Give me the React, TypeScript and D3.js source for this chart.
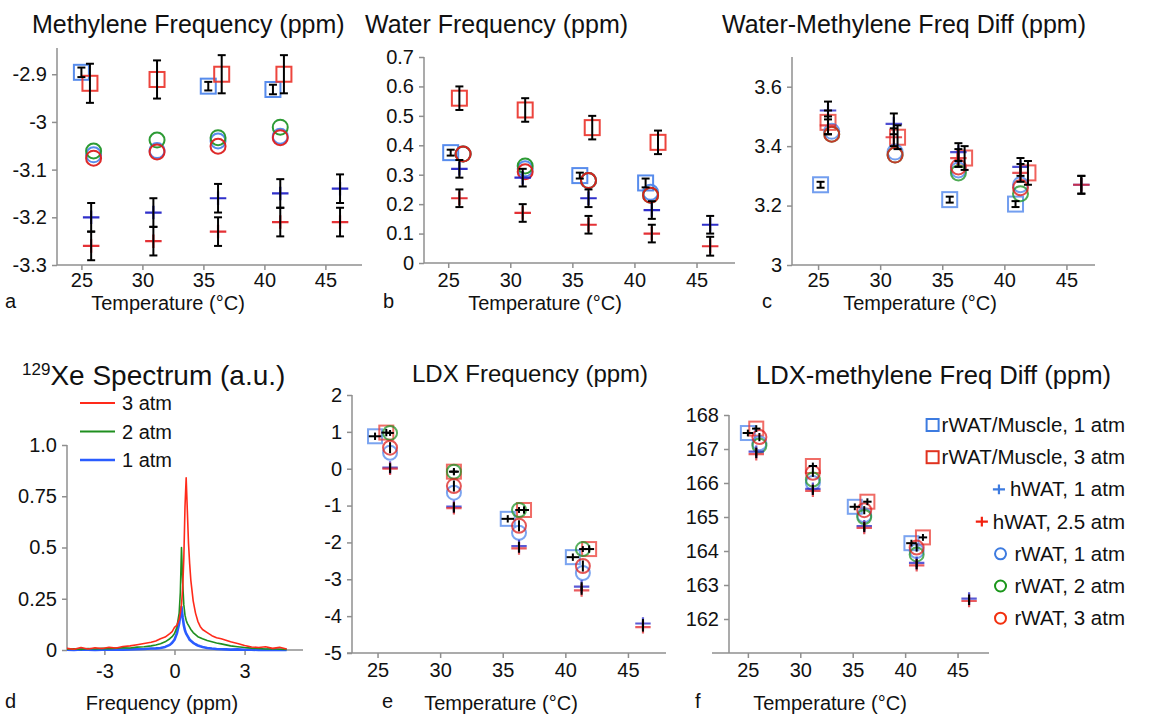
import { useEffect, useRef } from 'react'
import * as d3 from 'd3'

const FONT = '"Liberation Sans", Arial, Helvetica, sans-serif'
const AXIS = '#8f8f8f'

// marker colours
const BLUE_SQ = '#4f86ec'
const RED_SQ = '#ec3b33'
const BLUE_PLUS = '#2424c8'
const RED_PLUS = '#e3262b'
const BLUE_CIRC = '#4f86ec'
const GREEN_CIRC = '#22962a'
const RED_CIRC = '#dd1f1f'

// tick values / labels
const tempTicks = [25, 30, 35, 40, 45]
const methyleneTicks = [-3.3, -3.2, -3.1, -3, -2.9]
const waterTicks = [0, 0.1, 0.2, 0.3, 0.4, 0.5, 0.6, 0.7]
const diffTicks = [3, 3.2, 3.4, 3.6]
const specXTicks = [-3, 0, 3]
const specYTicks = [0, 0.25, 0.5, 0.75, 1]
const specYLabels = ['0', '0.25', '0.5', '0.75', '1.0']
const ldxTicks = [-5, -4, -3, -2, -1, 0, 1, 2]
const ldxDiffTicks = [162, 163, 164, 165, 166, 167, 168]

// a: methylene frequency (ppm)
const methMus1 = [{ t: 25.0, v: -2.896, e: 0.01 }, { t: 35.4, v: -2.925, e: 0.009 }, { t: 40.7, v: -2.932, e: 0.01 }]
const methMus3 = [{ t: 25.7, v: -2.919, e: 0.041 }, { t: 31.2, v: -2.911, e: 0.04 }, { t: 36.5, v: -2.9, e: 0.04 }, { t: 41.6, v: -2.9, e: 0.04 }]
const methH1 = [{ t: 25.8, v: -3.2, e: 0.03 }, { t: 30.9, v: -3.19, e: 0.03 }, { t: 36.2, v: -3.16, e: 0.03 }, { t: 41.3, v: -3.15, e: 0.03 }, { t: 46.2, v: -3.14, e: 0.03 }]
const methH25 = [{ t: 25.8, v: -3.26, e: 0.03 }, { t: 30.9, v: -3.25, e: 0.03 }, { t: 36.2, v: -3.23, e: 0.03 }, { t: 41.3, v: -3.21, e: 0.03 }, { t: 46.2, v: -3.21, e: 0.03 }]
const methR1 = [{ t: 26.0, v: -3.069 }, { t: 31.2, v: -3.06 }, { t: 36.2, v: -3.04 }, { t: 41.3, v: -3.03 }]
const methR2 = [{ t: 26.0, v: -3.061 }, { t: 31.2, v: -3.038 }, { t: 36.2, v: -3.033 }, { t: 41.3, v: -3.011 }]
const methR3 = [{ t: 26.0, v: -3.076 }, { t: 31.2, v: -3.063 }, { t: 36.2, v: -3.051 }, { t: 41.3, v: -3.033 }]

// b: water frequency (ppm)
const waterMus1 = [{ t: 25.2, v: 0.375, e: 0.01 }, { t: 35.6, v: 0.297, e: 0.01 }, { t: 40.9, v: 0.272, e: 0.015 }]
const waterMus3 = [{ t: 25.9, v: 0.56, e: 0.04 }, { t: 31.2, v: 0.52, e: 0.04 }, { t: 36.6, v: 0.46, e: 0.04 }, { t: 41.9, v: 0.41, e: 0.04 }]
const waterH1 = [{ t: 25.9, v: 0.32, e: 0.03 }, { t: 31.0, v: 0.29, e: 0.03 }, { t: 36.3, v: 0.22, e: 0.03 }, { t: 41.4, v: 0.18, e: 0.03 }, { t: 46.1, v: 0.13, e: 0.03 }]
const waterH25 = [{ t: 25.9, v: 0.22, e: 0.03 }, { t: 31.0, v: 0.17, e: 0.03 }, { t: 36.3, v: 0.13, e: 0.03 }, { t: 41.4, v: 0.1, e: 0.03 }, { t: 46.1, v: 0.057, e: 0.032 }]
const waterR1 = [{ t: 26.2, v: 0.37 }, { t: 31.2, v: 0.32 }, { t: 36.3, v: 0.28 }, { t: 41.3, v: 0.24 }]
const waterR2 = [{ t: 26.2, v: 0.37 }, { t: 31.2, v: 0.33 }, { t: 36.3, v: 0.28 }, { t: 41.3, v: 0.23 }]
const waterR3 = [{ t: 26.2, v: 0.37 }, { t: 31.2, v: 0.31 }, { t: 36.3, v: 0.28 }, { t: 41.3, v: 0.23 }]

// c: water - methylene difference (ppm)
const diffMus1 = [{ t: 25.2, v: 3.27, e: 0.01 }, { t: 35.6, v: 3.22, e: 0.01 }, { t: 40.9, v: 3.205, e: 0.01 }]
const diffMus3 = [{ t: 25.8, v: 3.48, e: 0.04 }, { t: 31.4, v: 3.43, e: 0.04 }, { t: 36.8, v: 3.36, e: 0.04 }, { t: 41.9, v: 3.31, e: 0.04 }]
const diffH1 = [{ t: 25.8, v: 3.52, e: 0.03 }, { t: 31.1, v: 3.475, e: 0.035 }, { t: 36.3, v: 3.38, e: 0.03 }, { t: 41.3, v: 3.33, e: 0.03 }, { t: 46.2, v: 3.27, e: 0.03 }]
const diffH25 = [{ t: 25.8, v: 3.47, e: 0.03 }, { t: 31.1, v: 3.43, e: 0.03 }, { t: 36.3, v: 3.36, e: 0.03 }, { t: 41.3, v: 3.31, e: 0.03 }, { t: 46.2, v: 3.27, e: 0.03 }]
const diffR1 = [{ t: 26.1, v: 3.45 }, { t: 31.2, v: 3.38 }, { t: 36.3, v: 3.32 }, { t: 41.3, v: 3.27 }]
const diffR2 = [{ t: 26.1, v: 3.44 }, { t: 31.2, v: 3.37 }, { t: 36.3, v: 3.31 }, { t: 41.3, v: 3.24 }]
const diffR3 = [{ t: 26.1, v: 3.44 }, { t: 31.2, v: 3.37 }, { t: 36.3, v: 3.33 }, { t: 41.3, v: 3.26 }]

// d: 129Xe spectrum (a.u.)
const specFreq = [-4.6, -4.3, -4.0, -3.7, -3.4, -3.1, -2.8, -2.5, -2.2, -1.9, -1.6, -1.3, -1.0, -0.8, -0.6, -0.4, -0.2, -0.1, 0, 0.1, 0.2, 0.25, 0.3, 0.35, 0.4, 0.45, 0.5, 0.55, 0.6, 0.65, 0.7, 0.8, 0.9, 1.0, 1.1, 1.2, 1.4, 1.6, 1.8, 2.0, 2.2, 2.4, 2.7, 3.0, 3.3, 3.6, 3.9, 4.2, 4.5, 4.8]
const spec3atm = [0.008, 0.004, 0.012, 0.005, 0.011, 0.007, 0.013, 0.01, 0.017, 0.02, 0.026, 0.032, 0.038, 0.044, 0.055, 0.063, 0.08, 0.09, 0.11, 0.12, 0.15, 0.18, 0.22, 0.3, 0.45, 0.7, 0.84, 0.68, 0.52, 0.42, 0.34, 0.24, 0.18, 0.14, 0.115, 0.1, 0.085, 0.07, 0.06, 0.055, 0.048, 0.04, 0.032, 0.022, 0.015, 0.012, 0.016, 0.008, 0.013, 0.005]
const spec2atm = [0.004, 0.006, 0.003, 0.007, 0.005, 0.008, 0.006, 0.009, 0.011, 0.01, 0.014, 0.016, 0.02, 0.024, 0.03, 0.04, 0.055, 0.065, 0.08, 0.11, 0.18, 0.28, 0.5, 0.33, 0.22, 0.17, 0.145, 0.13, 0.12, 0.11, 0.1, 0.085, 0.075, 0.065, 0.06, 0.055, 0.046, 0.04, 0.034, 0.03, 0.025, 0.02, 0.016, 0.012, 0.009, 0.007, 0.005, 0.006, 0.004, 0.003]
const spec1atm = [0.002, 0.0, 0.003, 0.001, 0.0, 0.002, 0.001, 0.003, 0.002, 0.003, 0.004, 0.005, 0.007, 0.008, 0.01, 0.015, 0.025, 0.035, 0.05, 0.08, 0.13, 0.17, 0.21, 0.16, 0.12, 0.095, 0.08, 0.07, 0.06, 0.05, 0.045, 0.035, 0.028, 0.022, 0.018, 0.015, 0.01, 0.007, 0.005, 0.004, 0.003, 0.002, 0.003, 0.001, 0.002, 0.0, 0.001, 0.0, 0.001, 0.0]
const specLegend = ['3 atm', '2 atm', '1 atm']

// e: LDX frequency (ppm)
const ldxMus1 = [{ t: 24.8, v: 0.88, e: 0.1, ex: 0.5 }, { t: 35.4, v: -1.36, e: 0.1, ex: 0.5 }, { t: 40.6, v: -2.4, e: 0.1, ex: 0.5 }]
const ldxMus3 = [{ t: 25.7, v: 0.98, e: 0.1, ex: 0.4 }, { t: 31.1, v: -0.08, e: 0.1, ex: 0.4 }, { t: 36.7, v: -1.12, e: 0.1, ex: 0.4 }, { t: 41.9, v: -2.18, e: 0.1, ex: 0.4 }]
const ldxH1 = [{ t: 26.0, v: 0.03, e: 0.12 }, { t: 31.1, v: -1.03, e: 0.12 }, { t: 36.3, v: -2.1, e: 0.12 }, { t: 41.3, v: -3.2, e: 0.12 }, { t: 46.2, v: -4.2, e: 0.12 }]
const ldxH25 = [{ t: 26.0, v: 0.0, e: 0.12 }, { t: 31.1, v: -1.07, e: 0.12 }, { t: 36.3, v: -2.16, e: 0.12 }, { t: 41.3, v: -3.3, e: 0.12 }, { t: 46.2, v: -4.3, e: 0.12 }]
const ldxR1 = [{ t: 26.0, v: 0.43 }, { t: 31.1, v: -0.65 }, { t: 36.3, v: -1.74 }, { t: 41.4, v: -2.83 }]
const ldxR2 = [{ t: 26.0, v: 0.97, e: 0.08, ex: 0.3 }, { t: 31.1, v: -0.08, e: 0.08, ex: 0.3 }, { t: 36.3, v: -1.12, e: 0.08, ex: 0.3 }, { t: 41.4, v: -2.18, e: 0.08, ex: 0.3 }]
const ldxR3 = [{ t: 26.0, v: 0.57, e: 0.15 }, { t: 31.1, v: -0.47, e: 0.15 }, { t: 36.3, v: -1.55, e: 0.15 }, { t: 41.4, v: -2.64, e: 0.15 }]

// f: LDX - methylene difference (ppm)
const ldxDiffMus1 = [{ t: 25.0, v: 167.47, e: 0.1, ex: 0.5 }, { t: 35.2, v: 165.3, e: 0.1, ex: 0.5 }, { t: 40.6, v: 164.23, e: 0.1, ex: 0.5 }]
const ldxDiffMus3 = [{ t: 25.8, v: 167.6, e: 0.1, ex: 0.4 }, { t: 31.2, v: 166.5, e: 0.1, ex: 0.4 }, { t: 36.4, v: 165.45, e: 0.1, ex: 0.4 }, { t: 41.7, v: 164.4, e: 0.1, ex: 0.4 }]
const ldxDiffH1 = [{ t: 25.8, v: 166.92, e: 0.12 }, { t: 31.2, v: 165.83, e: 0.12 }, { t: 36.1, v: 164.73, e: 0.12 }, { t: 41.1, v: 163.65, e: 0.12 }, { t: 46.1, v: 162.6, e: 0.12 }]
const ldxDiffH25 = [{ t: 25.8, v: 166.85, e: 0.12 }, { t: 31.2, v: 165.77, e: 0.12 }, { t: 36.1, v: 164.68, e: 0.12 }, { t: 41.1, v: 163.58, e: 0.12 }, { t: 46.1, v: 162.53, e: 0.12 }]
const ldxDiffR1 = [{ t: 26.1, v: 167.17 }, { t: 31.2, v: 166.0 }, { t: 36.1, v: 165.05 }, { t: 41.1, v: 164.0 }]
const ldxDiffR2 = [{ t: 26.1, v: 167.1 }, { t: 31.2, v: 166.1 }, { t: 36.1, v: 165.0 }, { t: 41.1, v: 163.9 }]
const ldxDiffR3 = [{ t: 26.1, v: 167.35, e: 0.12 }, { t: 31.2, v: 166.3, e: 0.12 }, { t: 36.1, v: 165.2, e: 0.12 }, { t: 41.1, v: 164.1, e: 0.12 }]

const legendLabels = ['rWAT/Muscle, 1 atm', 'rWAT/Muscle, 3 atm', 'hWAT, 1 atm', 'hWAT, 2.5 atm', 'rWAT, 1 atm', 'rWAT, 2 atm', 'rWAT, 3 atm']
const legendShapes = ['square', 'square', 'plus', 'plus', 'circle', 'circle', 'circle']
const legendColors = ['#3d7be0', '#e0321f', '#3d7be0', '#f2200f', '#3d7be0', '#1a961a', '#f2300f']

type Pt = { t: number; v: number; e?: number; ex?: number }
type Series = { data: Pt[]; shape: string; color: string }

// draws a marker (square / plus / circle) centred on cx, cy
function marker(g: any, shape: string, cx: number, cy: number, color: string, size: number) {
  if (shape === 'square') {
    g.append('rect')
      .attr('x', cx - size / 2)
      .attr('y', cy - size / 2)
      .attr('width', size)
      .attr('height', size)
      .attr('fill', 'none')
      .attr('stroke', color)
      .attr('stroke-width', 2)
  } else if (shape === 'circle') {
    g.append('circle')
      .attr('cx', cx)
      .attr('cy', cy)
      .attr('r', size / 2)
      .attr('fill', 'none')
      .attr('stroke', color)
      .attr('stroke-width', 2)
  } else {
    const w = size * 0.55
    const h = size * 0.45
    g.append('path')
      .attr('d', `M${cx - w},${cy}H${cx + w}M${cx},${cy - h}V${cy + h}`)
      .attr('stroke', color)
      .attr('stroke-width', 2.2)
  }
}

function addText(svg: any, x: number, y: number, str: string, size: number, anchor = 'start') {
  return svg
    .append('text')
    .attr('x', x)
    .attr('y', y)
    .attr('text-anchor', anchor)
    .style('font-family', FONT)
    .style('font-size', size + 'px')
    .style('fill', '#111')
    .text(str)
}

// axes of one panel, returns the scales
function drawAxes(svg: any, cfg: any) {
  const x = d3.scaleLinear().domain(cfg.xDomain).range([cfg.left, cfg.right])
  const y = d3.scaleLinear().domain(cfg.yDomain).range([cfg.bottom, cfg.top])
  const g = svg.append('g')

  const xAxis = d3
    .axisBottom(x)
    .tickValues(cfg.xTicks)
    .tickSize(5)
    .tickSizeOuter(0)
    .tickPadding(cfg.xPad)
    .tickFormat((d: any) => String(d))
  const gx = g.append('g').attr('transform', `translate(0,${cfg.bottom})`).call(xAxis)
  gx.select('.domain').remove()

  const yAxis = d3
    .axisLeft(y)
    .tickValues(cfg.yTicks)
    .tickSize(5)
    .tickSizeOuter(0)
    .tickPadding(5)
    .tickFormat((d: any, i: number) => (cfg.yLabels ? cfg.yLabels[i] : String(d)))
  const gy = g.append('g').attr('transform', `translate(${cfg.left},0)`).call(yAxis)
  gy.select('.domain').remove()

  for (const a of [gx, gy]) {
    a.attr('font-family', FONT).attr('font-size', 20)
    a.selectAll('line').attr('stroke', AXIS).attr('stroke-width', 1.5)
    a.selectAll('text').attr('fill', '#111')
  }
  // axis lines
  g.append('line')
    .attr('x1', cfg.left - (cfg.xExtend || 0))
    .attr('x2', cfg.right)
    .attr('y1', cfg.bottom)
    .attr('y2', cfg.bottom)
    .attr('stroke', AXIS)
    .attr('stroke-width', 1.5)
  g.append('line')
    .attr('x1', cfg.left)
    .attr('x2', cfg.left)
    .attr('y1', cfg.top)
    .attr('y2', cfg.bottom)
    .attr('stroke', AXIS)
    .attr('stroke-width', 1.5)
  return { x, y }
}

// scatter panel with error bars
function drawScatter(svg: any, cfg: any) {
  const { x, y } = drawAxes(svg, cfg)
  const g = svg.append('g')
  cfg.series.forEach((s: Series) => {
    const gs = g.append('g').attr('opacity', cfg.opacity)
    s.data.forEach((d) => marker(gs, s.shape, x(d.t), y(d.v), s.color, cfg.size))
  })
  const ge = g.append('g').attr('stroke', '#000').attr('stroke-width', 2)
  cfg.series.forEach((s: Series) => {
    s.data.forEach((d) => {
      if (d.e) {
        const cx = x(d.t)
        ge.append('line').attr('x1', cx).attr('x2', cx).attr('y1', y(d.v - d.e)).attr('y2', y(d.v + d.e))
        if (cfg.caps) {
          ge.append('line').attr('x1', cx - 4).attr('x2', cx + 4).attr('y1', y(d.v - d.e)).attr('y2', y(d.v - d.e))
          ge.append('line').attr('x1', cx - 4).attr('x2', cx + 4).attr('y1', y(d.v + d.e)).attr('y2', y(d.v + d.e))
        }
      }
      if (d.ex) {
        const cy = y(d.v)
        ge.append('line').attr('x1', x(d.t - d.ex)).attr('x2', x(d.t + d.ex)).attr('y1', cy).attr('y2', cy)
      }
    })
  })
}

const App = () => {
  const svgRef = useRef(null)

  useEffect(() => {
    const svg = d3.select(svgRef.current)
    svg.selectAll('*').remove()

    const groupSeries = (mus1: Pt[], mus3: Pt[], h1: Pt[], h25: Pt[], r1: Pt[], r2: Pt[], r3: Pt[]) => [
      { data: mus1, shape: 'square', color: BLUE_SQ },
      { data: mus3, shape: 'square', color: RED_SQ },
      { data: r1, shape: 'circle', color: BLUE_CIRC },
      { data: r2, shape: 'circle', color: GREEN_CIRC },
      { data: r3, shape: 'circle', color: RED_CIRC },
      { data: h1, shape: 'plus', color: BLUE_PLUS },
      { data: h25, shape: 'plus', color: RED_PLUS },
    ]

    // a
    drawScatter(svg, {
      left: 57, right: 362, top: 48, bottom: 265,
      xDomain: [23, 48], yDomain: [-3.3, -2.845],
      xTicks: tempTicks, yTicks: methyleneTicks, xPad: 3,
      size: 15, opacity: 0.95, caps: true,
      series: groupSeries(methMus1, methMus3, methH1, methH25, methR1, methR2, methR3),
    })
    // b
    drawScatter(svg, {
      left: 424, right: 735, top: 57, bottom: 263,
      xDomain: [23.05, 48.1], yDomain: [0, 0.7],
      xTicks: tempTicks, yTicks: waterTicks, xPad: 5,
      size: 15, opacity: 0.95, caps: true,
      series: groupSeries(waterMus1, waterMus3, waterH1, waterH25, waterR1, waterR2, waterR3),
    })
    // c
    drawScatter(svg, {
      left: 792, right: 1095, top: 57, bottom: 265,
      xDomain: [22.9, 47.3], yDomain: [3, 3.7],
      xTicks: tempTicks, yTicks: diffTicks, xPad: 3,
      size: 15, opacity: 0.8, caps: true,
      series: groupSeries(diffMus1, diffMus3, diffH1, diffH25, diffR1, diffR2, diffR3),
    })
    // e
    drawScatter(svg, {
      left: 352, right: 666, top: 395, bottom: 653, xExtend: 5,
      xDomain: [22.96, 48.04], yDomain: [-5, 2],
      xTicks: tempTicks, yTicks: ldxTicks, xPad: 5,
      size: 14, opacity: 0.75, caps: false,
      series: groupSeries(ldxMus1, ldxMus3, ldxH1, ldxH25, ldxR1, ldxR2, ldxR3),
    })
    // f
    drawScatter(svg, {
      left: 729, right: 989, top: 415, bottom: 653, xExtend: 17,
      xDomain: [23.2, 48], yDomain: [161, 168],
      xTicks: tempTicks, yTicks: ldxDiffTicks, xPad: 5,
      size: 14, opacity: 0.75, caps: false,
      series: groupSeries(ldxDiffMus1, ldxDiffMus3, ldxDiffH1, ldxDiffH25, ldxDiffR1, ldxDiffR2, ldxDiffR3),
    })

    // d: spectrum
    const { x: sx, y: sy } = drawAxes(svg, {
      left: 67, right: 303, top: 445, bottom: 650,
      xDomain: [-4.6, 5.5], yDomain: [0, 1],
      xTicks: specXTicks, yTicks: specYTicks, yLabels: specYLabels, xPad: 9,
    })
    const specLine = d3
      .line<number>()
      .x((_, i) => sx(specFreq[i]))
      .y((d) => sy(d))
    const specs = [
      { vals: spec1atm, color: '#2a5cff', w: 2.6 },
      { vals: spec2atm, color: '#1f8f1f', w: 1.6 },
      { vals: spec3atm, color: '#ff2a1a', w: 1.6 },
    ]
    specs.forEach((s) => {
      svg
        .append('path')
        .attr('d', specLine(s.vals))
        .attr('fill', 'none')
        .attr('stroke', s.color)
        .attr('stroke-width', s.w)
        .attr('stroke-linejoin', 'round')
    })
    // spectrum legend
    const specColors = ['#ff2a1a', '#1f8f1f', '#2a5cff']
    specLegend.forEach((lab, i) => {
      const ly = 403 + i * 28.5
      svg
        .append('line')
        .attr('x1', 80)
        .attr('x2', 115)
        .attr('y1', ly)
        .attr('y2', ly)
        .attr('stroke', specColors[i])
        .attr('stroke-width', i === 2 ? 2.6 : 1.8)
      addText(svg, 122, ly + 7, lab, 20)
    })

    // f legend
    legendLabels.forEach((lab, i) => {
      const ly = 425 + i * 32.2
      const t = addText(svg, 1125, ly + 7, lab, 20.5, 'end')
      const w = (t.node() as SVGTextElement).getComputedTextLength()
      const gap = legendShapes[i] === 'square' ? 9 : legendShapes[i] === 'plus' ? 11 : 14
      const lg = svg.append('g')
      marker(lg, legendShapes[i], 1125 - w - gap, ly, legendColors[i], legendShapes[i] === 'square' ? 12 : 11)
    })

    // titles
    addText(svg, 32, 33, 'Methylene Frequency (ppm)', 25)
    addText(svg, 365, 33, 'Water Frequency (ppm)', 25)
    addText(svg, 722, 33, 'Water-Methylene Freq Diff (ppm)', 25)
    const xe = addText(svg, 22, 385, '', 28)
    xe.append('tspan').style('font-size', '17px').attr('dy', -10).text('129')
    xe.append('tspan').attr('dy', 10).text('Xe Spectrum (a.u.)')
    addText(svg, 412, 382, 'LDX Frequency (ppm)', 24)
    addText(svg, 756, 384, 'LDX-methylene Freq Diff (ppm)', 25.6)

    // axis labels
    addText(svg, 168, 310, 'Temperature (°C)', 20, 'middle')
    addText(svg, 545, 310, 'Temperature (°C)', 20, 'middle')
    addText(svg, 920, 310, 'Temperature (°C)', 20, 'middle')
    addText(svg, 162, 710, 'Frequency (ppm)', 20, 'middle')
    addText(svg, 501, 710, 'Temperature (°C)', 20, 'middle')
    addText(svg, 830, 710, 'Temperature (°C)', 20, 'middle')

    // panel letters
    addText(svg, 5, 308, 'a', 20)
    addText(svg, 383, 308, 'b', 20)
    addText(svg, 762, 308, 'c', 20)
    addText(svg, 5, 708, 'd', 20)
    addText(svg, 382, 708, 'e', 20)
    addText(svg, 695, 708, 'f', 20)
  }, [])

  return (
    <svg
      ref={svgRef}
      width={1158}
      height={718}
      style={{ position: 'absolute', left: 0, top: 0, background: '#fff' }}
    />
  )
}

export default App
